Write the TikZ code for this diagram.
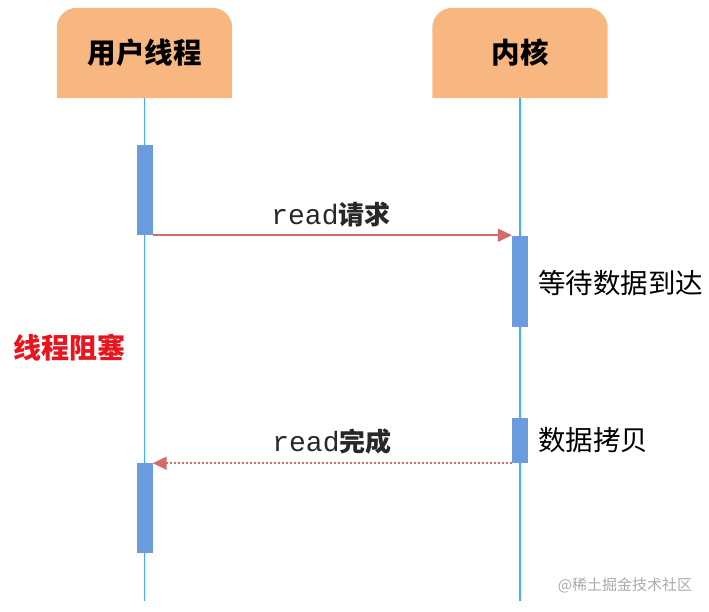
\documentclass[tikz,border=0pt]{standalone}
\usepackage{fontspec}
\setmonofont{Liberation Mono}
\newfontfamily\cjk{Noto Sans CJK SC}
\usetikzlibrary{arrows.meta,backgrounds}
\definecolor{hdrfill}{RGB}{248,183,128}
\definecolor{lifeblue}{RGB}{59,181,232}
\definecolor{barblue}{RGB}{106,155,222}
\definecolor{msgred}{RGB}{212,106,106}
\definecolor{txtgray}{RGB}{40,40,40}
\definecolor{wmgray}{RGB}{170,170,170}
\definecolor{blockred}{RGB}{232,20,30}
\tikzset{
  hdr/.style={minimum width=175pt,minimum height=90pt,inner sep=0pt,font=\cjk\bfseries\fontsize{28.5}{32}\selectfont,text=black},
  hdrbg/.style={fill=hdrfill},
  life/.style={draw=lifeblue,line width=1.6pt},
  bar/.style={fill=barblue,draw=none,minimum width=16pt,inner sep=0pt},
  msg/.style={draw=msgred,line width=2pt,-{Triangle[length=14pt,width=13pt]}},
  msgdot/.style={msg,dash pattern=on 2pt off 2pt},
  lbl/.style={font=\cjk\bfseries\fontsize{26}{30}\selectfont,text=txtgray,inner sep=0pt},
  side/.style={font=\cjk\fontsize{27.5}{32}\selectfont,text=black,inner sep=0pt,anchor=west},
}
\begin{document}
\begin{tikzpicture}[x=1pt,y=-1pt]
\useasboundingbox (0,0) rectangle (709,611);
% headers
\node[hdr] (user) at (144.5,53) {用户线程};
\node[hdr] (kern) at (520,53) {内核};
\begin{scope}[on background layer]
\fill[hdrbg] (user.south west) [rounded corners=20pt] -- (user.north west) -- (user.north east) [sharp corners] -- (user.south east) -- cycle;
\fill[hdrbg] (kern.south west) [rounded corners=20pt] -- (kern.north west) -- (kern.north east) [sharp corners] -- (kern.south east) -- cycle;
\end{scope}
% lifelines
\coordinate (uend) at (144.5,601);
\coordinate (kend) at (520,601);
\draw[life] (user.south) -- (uend);
\draw[life] (kern.south) -- (kend);
% activation bars
\node[bar,minimum height=90pt] (a1) at (144.5,190) {};
\node[bar,minimum height=91pt] (k1) at (520,281.5) {};
\node[bar,minimum height=45pt] (k2) at (520,440.5) {};
\node[bar,minimum height=90pt] (a2) at (144.5,508) {};
% messages
\draw[msg] (a1.south east) -- (a1.south east -| k1.west);
\draw[msgdot] (k2.south west) -- (k2.south west -| a2.east);
\node[lbl] (m1) at (331,215) {\mdseries\ttfamily\fontsize{28}{30}\selectfont read\cjk\bfseries\fontsize{26}{30}\selectfont 请求};
\node[lbl] (m2) at (332,442) {\mdseries\ttfamily\fontsize{28}{30}\selectfont read\cjk\bfseries\fontsize{26}{30}\selectfont 完成};
% side labels
\node[side] (wait) at (538,283) {等待数据到达};
\node[side] (copy) at (538,440) {数据拷贝};
\node[font=\cjk\bfseries\fontsize{28}{32}\selectfont,text=blockred,inner sep=0pt] (blk) at (69,348) {线程阻塞};
\node[font=\cjk\fontsize{15}{18}\selectfont,text=wmgray,inner sep=0pt] (wm) at (625,585) {@稀土掘金技术社区};
\end{tikzpicture}
\end{document}
